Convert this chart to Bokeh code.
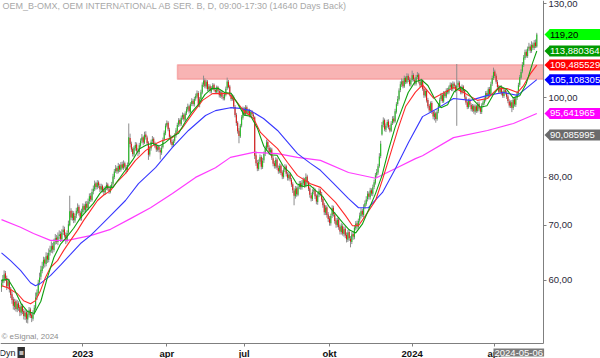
import math
from bokeh.plotting import figure
from bokeh.models import Range1d, FixedTicker, BoxAnnotation, Label, ColumnDataSource
from bokeh.embed import file_html
from bokeh.resources import INLINE

# ---------------- data (daily candles, trading-day index) ----------------
opens = [
    58.8, 59.6, 60.1, 61.2, 60.4, 59.1, 59.9, 58.6, 57.7, 56.9,
    55.7, 56.6, 55.3, 56.3, 55.7, 54.8, 55.9, 55.1, 54.2, 54.9,
    53.8, 54.5, 55.3, 54.5, 53.9, 54.8, 55.5, 57.3, 57.9, 59.7,
    60.6, 61.6, 62.5, 63.6, 62.8, 64.3, 63.5, 64.9, 65.2, 66.1,
    65.3, 66.9, 67.6, 66.8, 67.9, 68.3, 67.3, 68.7, 69.2, 68.1,
    67.1, 68.6, 70.0, 72.9, 71.4, 72.4, 70.9, 71.9, 72.8, 73.7,
    72.5, 71.4, 72.6, 73.9, 73.0, 74.3, 73.4, 74.9, 76.0, 75.1,
    76.9, 77.4, 78.7, 77.8, 78.9, 78.1, 77.3, 78.1, 77.1, 76.7,
    77.7, 78.4, 77.4, 76.8, 77.9, 78.6, 80.1, 81.4, 82.1, 81.3,
    82.7, 81.7, 83.0, 82.1, 83.2, 82.3, 81.7, 83.0, 89.3, 87.9,
    86.6, 85.3, 86.8, 87.7, 86.1, 85.9, 87.4, 88.7, 89.5, 88.1,
    90.2, 89.4, 88.1, 85.3, 86.7, 88.5, 89.1, 87.8, 87.3, 86.4,
    87.1, 86.3, 85.7, 87.0, 88.9, 90.5, 92.5, 93.2, 91.4, 89.7,
    88.3, 87.5, 88.6, 90.0, 91.1, 92.7, 93.9, 92.8, 94.6, 95.3,
    94.0, 95.7, 96.7, 97.6, 96.1, 98.2, 99.1, 98.1, 99.7, 100.3,
    101.3, 97.9, 99.6, 101.4, 103.7, 104.9, 103.1, 104.6, 102.3, 103.2,
    101.7, 102.7, 103.6, 102.1, 101.5, 102.9, 101.8, 100.5, 101.5, 100.1,
    99.7, 100.8, 102.6, 104.5, 103.1, 100.7, 99.5, 100.1, 97.4, 95.3,
    93.2, 91.1, 89.7, 92.5, 94.5, 96.9, 95.4, 97.3, 95.7, 96.5,
    95.0, 96.1, 95.3, 94.6, 85.1, 83.3, 81.9, 83.6, 84.7, 82.3,
    83.9, 85.5, 86.7, 88.3, 86.9, 85.8, 86.5, 84.4, 83.2, 82.5,
    84.1, 82.1, 81.3, 82.7, 81.1, 80.1, 81.7, 82.5, 80.7, 79.8,
    80.7, 79.5, 78.5, 77.1, 75.9, 77.6, 76.2, 77.9, 78.7, 77.8,
    78.7, 79.5, 78.1, 80.2, 78.8, 77.6, 76.1, 75.3, 76.9, 77.3,
    76.0, 74.7, 76.2, 77.1, 76.3, 75.3, 74.1, 72.5, 73.6, 72.1,
    71.3, 70.4, 71.9, 73.5, 72.1, 70.9, 70.0, 71.1, 69.7, 68.7,
    69.8, 68.3, 69.3, 68.1, 67.2, 68.7, 67.4, 66.8, 68.3, 67.7,
    69.4, 70.4, 69.7, 70.9, 71.8, 72.9, 72.0, 73.7, 74.3, 75.3,
    76.5, 75.7, 77.2, 76.4, 77.9, 78.8, 80.5, 81.1, 82.6, 84.9,
    90.2, 92.7, 93.9, 91.4, 92.5, 93.5, 91.9, 91.1, 93.1, 94.3,
    93.6, 96.1, 98.2, 99.5, 102.1, 103.7, 104.7, 103.1, 105.7, 104.3,
    106.3, 105.1, 103.7, 105.0, 106.5, 105.1, 103.9, 105.9, 106.6, 104.5,
    103.4, 104.9, 102.5, 100.5, 101.9, 99.3, 97.7, 96.4, 98.5, 96.1,
    94.7, 95.7, 94.1, 96.2, 97.7, 99.5, 100.7, 98.9, 101.3, 100.3,
    102.1, 101.4, 102.9, 103.7, 102.3, 104.0, 103.1, 101.9, 103.5, 104.3,
    102.7, 101.4, 103.1, 101.9, 100.1, 98.7, 97.3, 99.2, 97.9, 96.7,
    97.7, 96.1, 97.6, 96.3, 98.3, 97.1, 96.0, 97.9, 98.5, 99.4,
    101.3, 100.3, 102.4, 100.9, 103.9, 105.5, 107.5, 106.3, 104.4, 103.1,
    101.5, 102.9, 101.3, 100.4, 102.1, 101.3, 100.3, 98.9, 97.7, 98.7,
    97.1, 99.5, 98.0, 99.9, 101.1, 103.6, 105.7, 107.5, 109.5, 111.7,
    113.6, 112.3, 114.7, 115.3, 113.9, 115.9, 114.8, 116.6, 115.3,
]
highs = [
    60.1, 60.9, 61.7, 61.6, 60.8, 60.3, 60.2, 58.9, 58.2, 57.3,
    57.0, 56.9, 56.8, 56.6, 56.0, 56.3, 56.2, 55.4, 55.3, 55.2,
    55.0, 55.7, 55.6, 54.9, 55.2, 56.0, 58.0, 58.5, 60.1, 61.3,
    62.5, 63.2, 64.1, 64.0, 64.9, 64.8, 65.6, 66.1, 66.9, 66.6,
    67.4, 68.3, 68.1, 68.6, 69.0, 68.8, 69.2, 69.9, 69.7, 68.6,
    69.0, 70.9, 76.0, 73.4, 72.9, 72.8, 72.3, 73.5, 74.4, 74.1,
    72.9, 73.3, 74.4, 74.3, 74.8, 74.9, 75.4, 76.5, 76.6, 77.5,
    78.2, 79.3, 79.0, 79.4, 79.3, 78.6, 78.6, 78.4, 77.8, 78.1,
    78.9, 78.8, 77.9, 78.3, 79.0, 80.8, 81.9, 82.8, 82.5, 83.3,
    83.0, 83.5, 83.6, 83.9, 83.6, 82.8, 83.4, 93.0, 90.4, 88.4,
    87.0, 87.4, 88.3, 88.2, 86.8, 88.1, 89.2, 90.3, 89.9, 90.9,
    91.0, 89.9, 88.5, 87.3, 88.9, 89.8, 89.5, 88.4, 87.9, 87.6,
    87.6, 86.9, 87.5, 89.4, 91.2, 93.0, 93.8, 93.6, 91.9, 90.1,
    88.9, 89.0, 90.5, 91.8, 93.2, 94.4, 94.3, 95.1, 95.9, 95.7,
    96.2, 97.4, 98.3, 98.0, 98.7, 99.8, 99.6, 100.2, 101.1, 102.0,
    101.8, 100.1, 102.2, 104.3, 106.3, 105.5, 105.1, 105.0, 103.8, 103.7,
    103.2, 104.1, 104.0, 102.7, 103.4, 103.3, 102.3, 102.0, 102.0, 100.8,
    101.5, 103.1, 105.7, 105.0, 103.6, 101.3, 100.9, 100.6, 97.9, 95.8,
    93.6, 91.8, 92.9, 95.2, 97.5, 97.4, 97.9, 97.8, 96.9, 96.9,
    96.6, 96.5, 95.9, 94.9, 86.0, 84.0, 84.1, 85.3, 85.1, 84.5,
    86.0, 87.4, 88.9, 88.7, 87.5, 87.0, 86.9, 84.9, 83.8, 84.6,
    84.5, 82.7, 83.2, 83.1, 81.6, 82.1, 83.0, 82.9, 81.2, 81.1,
    81.0, 79.9, 78.9, 77.6, 78.1, 78.0, 78.4, 79.2, 79.2, 79.4,
    80.0, 79.9, 80.9, 80.6, 79.2, 78.0, 76.6, 77.4, 77.9, 77.6,
    76.3, 76.6, 77.6, 77.5, 76.8, 75.7, 74.5, 74.0, 74.0, 72.6,
    71.8, 72.3, 74.0, 73.9, 72.6, 71.4, 71.5, 71.6, 70.1, 70.4,
    70.2, 69.7, 69.8, 68.6, 69.1, 69.2, 67.9, 68.7, 68.8, 70.0,
    70.8, 70.9, 71.3, 72.5, 73.4, 73.3, 74.2, 75.0, 75.9, 77.0,
    76.9, 77.7, 77.6, 78.4, 79.5, 81.0, 81.9, 83.1, 85.6, 88.6,
    93.4, 94.6, 94.3, 93.0, 94.0, 94.1, 92.6, 93.6, 94.9, 95.0,
    96.9, 98.7, 100.4, 102.6, 104.6, 105.5, 105.2, 106.3, 106.1, 107.0,
    106.9, 105.8, 105.5, 107.8, 107.0, 105.7, 106.5, 107.4, 107.1, 105.1,
    105.4, 105.2, 103.0, 102.4, 102.3, 99.9, 98.2, 98.9, 99.0, 96.6,
    96.3, 96.1, 96.7, 98.4, 100.0, 101.3, 101.0, 101.8, 101.8, 102.6,
    102.7, 103.4, 104.3, 104.2, 104.6, 104.5, 103.6, 109.8, 104.9, 104.8,
    103.3, 103.7, 103.5, 102.4, 100.6, 99.2, 99.7, 99.8, 98.4, 98.2,
    98.1, 98.1, 98.0, 98.8, 98.9, 97.6, 98.4, 99.2, 100.1, 101.8,
    101.9, 102.9, 103.0, 104.5, 106.3, 108.7, 108.1, 106.9, 105.0, 103.6,
    103.4, 103.5, 101.9, 102.6, 102.7, 101.9, 100.8, 99.5, 99.2, 99.3,
    100.0, 100.0, 100.4, 101.9, 104.2, 106.5, 108.2, 110.4, 112.6, 114.3,
    114.4, 115.3, 116.5, 116.0, 117.0, 116.6, 117.4, 117.6, 119.8,
]
lows = [
    58.1, 59.0, 59.6, 59.9, 58.4, 58.7, 58.0, 57.1, 56.2, 55.3,
    55.2, 55.0, 54.9, 55.1, 54.3, 54.4, 54.6, 53.8, 53.7, 53.3,
    53.2, 54.1, 54.0, 53.4, 53.6, 54.5, 55.2, 56.8, 57.5, 59.2,
    60.1, 61.2, 62.0, 62.2, 62.4, 63.0, 63.1, 64.3, 64.8, 64.7,
    65.0, 66.3, 66.4, 66.2, 67.3, 66.8, 66.9, 68.1, 67.6, 66.4,
    66.7, 68.2, 69.8, 71.0, 70.9, 70.4, 70.5, 71.4, 72.3, 71.9,
    70.9, 70.9, 72.1, 72.6, 72.5, 73.0, 73.0, 74.3, 74.7, 74.8,
    76.3, 77.0, 77.3, 77.4, 77.7, 76.8, 76.9, 76.7, 76.1, 76.2,
    77.2, 77.1, 76.4, 76.5, 77.5, 78.2, 79.6, 81.0, 80.8, 80.9,
    81.2, 81.3, 81.8, 81.7, 82.0, 80.9, 81.2, 82.7, 87.0, 85.9,
    84.8, 84.7, 86.2, 85.7, 84.9, 85.3, 86.9, 88.0, 87.5, 87.8,
    88.9, 87.5, 84.0, 84.8, 86.2, 88.0, 87.4, 86.8, 85.9, 86.0,
    85.8, 84.1, 85.2, 86.7, 88.5, 90.0, 92.0, 91.0, 89.1, 87.7,
    87.0, 87.1, 88.1, 89.4, 90.6, 92.1, 92.3, 92.4, 94.0, 93.5,
    93.5, 95.2, 96.1, 95.6, 95.8, 97.6, 97.6, 97.5, 99.1, 99.8,
    97.4, 97.3, 99.0, 100.9, 103.0, 102.6, 102.5, 101.8, 101.9, 101.2,
    101.1, 102.1, 101.7, 101.0, 101.0, 101.3, 100.0, 99.9, 99.6, 99.2,
    99.2, 100.3, 102.1, 102.6, 100.3, 99.0, 99.1, 96.9, 94.6, 92.4,
    90.4, 88.0, 89.3, 92.0, 94.0, 95.0, 95.0, 95.3, 95.2, 94.6,
    94.5, 94.9, 94.2, 84.2, 82.6, 81.4, 81.5, 83.0, 81.8, 81.9,
    83.3, 84.9, 86.1, 86.5, 85.2, 85.2, 84.0, 82.5, 82.0, 82.0,
    81.7, 80.8, 80.9, 80.5, 79.6, 79.7, 81.2, 80.2, 79.3, 79.3,
    79.1, 77.9, 76.6, 74.0, 75.4, 75.8, 75.9, 77.4, 77.3, 77.3,
    78.2, 77.7, 77.8, 78.4, 77.0, 75.6, 74.8, 74.9, 76.3, 75.3,
    74.2, 74.1, 75.7, 75.9, 74.7, 73.5, 72.0, 72.0, 71.5, 70.6,
    69.9, 69.9, 71.4, 71.7, 70.3, 69.5, 69.6, 69.1, 68.2, 68.2,
    68.0, 67.8, 67.5, 66.7, 66.8, 67.0, 65.8, 66.4, 67.2, 67.3,
    69.0, 69.2, 69.3, 70.5, 71.3, 71.6, 71.5, 73.2, 73.9, 74.8,
    75.2, 75.2, 76.0, 75.9, 77.4, 78.4, 79.9, 80.6, 82.2, 84.4,
    89.9, 92.0, 91.0, 90.8, 91.9, 91.5, 90.7, 90.8, 92.6, 93.0,
    93.2, 95.6, 97.7, 99.1, 101.5, 103.0, 102.6, 102.7, 103.8, 103.9,
    104.4, 103.2, 103.1, 104.5, 104.6, 103.4, 103.4, 105.3, 104.0, 102.9,
    102.9, 101.9, 99.9, 100.0, 98.6, 97.0, 95.9, 95.9, 95.5, 94.1,
    93.8, 93.2, 93.7, 95.7, 97.2, 99.0, 98.5, 98.5, 99.9, 99.8,
    100.9, 100.9, 102.3, 101.8, 101.8, 102.6, 101.4, 92.4, 102.9, 102.0,
    100.9, 100.9, 101.2, 99.6, 98.0, 96.8, 96.9, 97.4, 96.2, 96.1,
    95.6, 95.3, 95.8, 95.9, 96.4, 95.5, 95.5, 97.3, 98.0, 98.9,
    99.8, 99.8, 100.4, 100.4, 103.3, 105.0, 105.6, 103.9, 102.4, 101.0,
    101.0, 100.6, 99.9, 99.9, 100.8, 99.6, 98.4, 97.2, 97.1, 96.0,
    96.6, 97.5, 97.4, 99.3, 100.6, 103.0, 105.2, 107.0, 108.9, 111.1,
    111.8, 111.7, 113.9, 113.2, 113.3, 114.2, 114.2, 114.8, 114.9,
]
closes = [
    59.5, 60.2, 61.0, 60.3, 59.0, 59.8, 58.5, 57.6, 56.8, 55.9,
    56.5, 55.4, 56.2, 55.6, 54.9, 55.8, 55.0, 54.3, 54.8, 53.9,
    54.6, 55.2, 54.4, 54.0, 54.7, 55.6, 57.2, 58.0, 59.6, 60.5,
    61.8, 62.4, 63.5, 62.9, 64.2, 63.6, 64.8, 65.3, 66.0, 65.4,
    66.8, 67.5, 66.9, 67.8, 68.2, 67.4, 68.6, 69.1, 68.0, 67.2,
    68.5, 70.2, 72.8, 71.5, 72.3, 71.0, 71.8, 72.9, 73.6, 72.4,
    71.5, 72.7, 73.8, 73.1, 74.2, 73.5, 74.8, 75.9, 75.2, 76.8,
    77.5, 78.6, 77.9, 78.8, 78.2, 77.4, 78.0, 77.2, 76.8, 77.6,
    78.3, 77.5, 76.9, 77.8, 78.5, 80.2, 81.3, 82.0, 81.4, 82.6,
    81.8, 82.9, 82.2, 83.1, 82.4, 81.6, 82.8, 89.5, 87.8, 86.5,
    85.4, 86.9, 87.6, 86.2, 85.8, 87.5, 88.6, 89.4, 88.2, 90.1,
    89.5, 88.0, 85.2, 86.8, 88.4, 89.0, 87.9, 87.2, 86.5, 87.0,
    86.4, 85.8, 86.9, 88.8, 90.6, 92.4, 93.1, 91.5, 89.6, 88.2,
    87.6, 88.5, 89.9, 91.2, 92.6, 93.8, 92.9, 94.5, 95.2, 94.1,
    95.6, 96.8, 97.5, 96.2, 98.1, 99.0, 98.2, 99.6, 100.4, 101.2,
    98.0, 99.5, 101.5, 103.6, 104.8, 103.2, 104.5, 102.4, 103.1, 101.8,
    102.6, 103.5, 102.2, 101.6, 102.8, 101.9, 100.6, 101.4, 100.2, 99.8,
    100.9, 102.5, 104.6, 103.0, 100.8, 99.6, 100.2, 97.5, 95.2, 93.1,
    91.0, 89.8, 92.4, 94.6, 96.8, 95.5, 97.2, 95.8, 96.4, 95.1,
    96.0, 95.4, 94.8, 85.0, 83.2, 82.0, 83.5, 84.6, 82.4, 83.8,
    85.4, 86.8, 88.2, 87.0, 85.9, 86.4, 84.5, 83.1, 82.6, 84.0,
    82.2, 81.4, 82.6, 81.0, 80.2, 81.6, 82.4, 80.8, 79.9, 80.6,
    79.6, 78.4, 77.2, 76.0, 77.5, 76.3, 77.8, 78.6, 77.9, 78.8,
    79.4, 78.2, 80.1, 78.9, 77.5, 76.2, 75.4, 76.8, 77.2, 75.9,
    74.8, 76.1, 77.0, 76.4, 75.2, 74.0, 72.6, 73.5, 72.0, 71.2,
    70.5, 71.8, 73.4, 72.2, 70.8, 70.1, 71.0, 69.6, 68.8, 69.9,
    68.4, 69.2, 68.0, 67.3, 68.6, 67.5, 66.9, 68.2, 67.8, 69.5,
    70.3, 69.8, 70.8, 71.9, 72.8, 72.1, 73.6, 74.4, 75.2, 76.4,
    75.8, 77.1, 76.5, 77.8, 78.9, 80.4, 81.2, 82.5, 84.8, 87.9,
    92.6, 93.8, 91.5, 92.4, 93.4, 92.0, 91.2, 93.0, 94.2, 93.5,
    96.2, 98.1, 99.6, 102.0, 103.8, 104.6, 103.2, 105.6, 104.4, 106.2,
    105.0, 103.8, 104.9, 106.4, 105.2, 104.0, 105.8, 106.5, 104.6, 103.5,
    104.8, 102.4, 100.6, 101.8, 99.2, 97.6, 96.5, 98.4, 96.0, 94.8,
    95.6, 94.2, 96.1, 97.8, 99.4, 100.6, 99.0, 101.2, 100.4, 102.0,
    101.5, 102.8, 103.6, 102.4, 103.9, 103.2, 102.0, 103.4, 104.2, 102.6,
    101.5, 103.0, 101.8, 100.2, 98.6, 97.4, 99.1, 98.0, 96.8, 97.6,
    96.2, 97.5, 96.4, 98.2, 97.0, 96.1, 97.8, 98.6, 99.5, 101.2,
    100.4, 102.3, 101.0, 103.8, 105.6, 107.4, 106.2, 104.5, 103.0, 101.6,
    102.8, 101.2, 100.5, 102.0, 101.4, 100.2, 99.0, 97.8, 98.6, 97.2,
    99.4, 98.1, 99.8, 101.2, 103.5, 105.8, 107.4, 109.6, 111.8, 113.5,
    112.4, 114.6, 115.2, 114.0, 115.8, 114.9, 116.5, 115.4, 119.2,
]

# moving averages (trading-day index, price)
ma_green_x = [0, 5, 10, 15, 20, 25, 30, 35, 40, 45, 50, 55, 60, 65, 70, 75, 80, 85, 90, 95,
              100, 105, 110, 115, 120, 125, 130, 135, 140, 145, 150, 155, 160, 165, 170, 175,
              180, 185, 190, 195, 200, 205, 210, 215, 220, 225, 230, 235, 240, 245, 250, 255,
              260, 265, 270, 275, 280, 285, 290, 295, 300, 305, 310, 315, 320, 325, 330, 335,
              340, 345, 350, 355, 360, 365, 370, 375, 380, 385, 390, 395, 400, 405, 408]
ma_green_y = [60.0, 60.2, 58.4, 56.2, 55.0, 54.7, 56.6, 60.5, 64.0, 66.4, 67.8, 69.4, 71.4, 72.9,
              74.4, 76.5, 77.9, 77.8, 79.8, 81.9, 84.0, 86.6, 87.5, 88.0, 87.3, 88.2, 89.6, 90.5,
              93.4, 96.0, 98.0, 100.8, 102.5, 102.6, 101.4, 101.2, 98.3, 95.2, 94.9, 91.8, 87.2,
              85.2, 85.1, 82.4, 81.0, 78.6, 78.0, 78.3, 77.0, 75.8, 73.6, 72.1, 70.5, 69.1, 68.5,
              70.2, 73.2, 76.4, 80.4, 86.4, 92.0, 96.6, 101.4, 104.4, 105.1, 103.4, 99.8, 97.2,
              98.0, 101.6, 102.9, 101.6, 99.2, 97.3, 97.7, 100.9, 103.2, 102.3, 99.9, 100.5,
              104.0, 110.4, 113.88]
ma_red_x = [0, 4.6, 12.2, 16.8, 22.1, 25.9, 29.7, 33.5, 37.3, 42.7, 47.3, 52.6, 57.9, 62.5, 67.8,
            73.2, 77.7, 83.1, 86.9, 94.5, 102.1, 109.8, 117.4, 122.7, 130.3, 138.0, 145.6, 153.2,
            160.8, 173.0, 178.4, 184.5, 192.1, 197.4, 203.5, 210.4, 218.0, 225.6, 235.5, 243.1,
            254.6, 262.2, 267.5, 272.1, 277.4, 285.1, 290.4, 296.5, 302.6, 308.0, 315.5, 320.9,
            329.3, 344.5, 352.1, 362.8, 370.4, 378.0, 385.7, 393.3, 397.9, 403.2, 408]
ma_red_y = [59.1, 58.8, 57.8, 56.7, 56.2, 56.7, 58.3, 60.5, 62.2, 63.4, 65.2, 67.1, 69.0, 70.9,
            72.9, 75.0, 76.1, 77.1, 78.6, 80.9, 83.9, 86.2, 87.9, 88.7, 89.4, 91.9, 95.6, 99.2,
            101.1, 101.1, 99.2, 96.4, 94.3, 90.7, 88.7, 86.7, 83.4, 80.4, 78.6, 77.8, 74.6, 71.9,
            69.9, 69.9, 71.9, 75.0, 79.5, 85.5, 92.0, 97.5, 101.5, 103.6, 99.8, 102.8, 101.4,
            99.2, 99.7, 102.5, 102.5, 101.4, 103.4, 106.9, 109.485529]
ma_blue_x = [0, 6.9, 14.5, 22.1, 25.9, 29.7, 37.3, 45.0, 52.6, 60.2, 67.8, 75.5, 83.1, 94.5,
             104.4, 117.4, 130.3, 142.5, 155.5, 163.1, 174.5, 182.2, 189.8, 199.7, 210.4, 225.6,
             235.5, 243.1, 252.3, 264.5, 272.1, 279.7, 290.4, 300.3, 310.2, 320.9, 332.3, 344.5,
             357.5, 370.4, 382.6, 393.3, 408]
ma_blue_y = [64.8, 63.4, 61.7, 59.6, 59.1, 59.5, 60.8, 62.6, 64.5, 66.5, 68.0, 69.9, 71.9, 75.0,
             78.6, 82.2, 87.0, 91.2, 95.1, 96.4, 97.2, 97.0, 96.4, 94.3, 91.2, 85.5, 83.2, 81.6,
             78.9, 75.4, 73.5, 73.5, 76.7, 82.0, 88.2, 94.8, 97.0, 99.7, 99.2, 100.6, 101.4,
             100.6, 105.108305]
ma_mag_x = [0, 14.5, 24.4, 37.3, 50.3, 67.8, 83.1, 98.3, 113.6, 130.3, 147.9, 163.1, 174.5,
            192.1, 210.4, 225.6, 243.1, 264.5, 285.1, 300.3, 315.5, 320.9, 344.5, 370.4, 390.2, 408]
ma_mag_y = [71.1, 69.6, 68.4, 67.1, 67.1, 68.0, 69.2, 71.3, 73.5, 76.5, 80.0, 82.2, 84.6, 85.8,
            85.5, 84.6, 83.9, 81.1, 79.8, 82.0, 84.3, 85.0, 89.4, 91.2, 93.0, 95.641965]

# resistance zone
zone_start = 134.1
zone_top = 109.6
zone_bottom = 105.2

# axis ticks
x_tick_pos = [62, 126, 185, 250, 313, 376]
x_tick_lab = ["2023", "apr", "jul", "okt", "2024", "apr"]
y_tick_pos = [60, 70, 80, 100, 130]
y_tick_lab = ["60,00", "70,00", "80,00", "100,00", "130,00"]

# price tags on the right
tag_vals = [119.20, 113.880364, 109.485529, 105.108305, 95.641965, 90.085995]
tag_text = ["119,20", "113,880364", "109,485529", "105,108305", "95,641965", "90,085995"]
tag_bg = ["#00ff00", "#009a00", "#ff0000", "#0000ff", "#ff00ff", "#6b6b6b"]
tag_fg = ["#000000", "#ffffff", "#ffffff", "#ffffff", "#ffffff", "#ffffff"]

# ---------------- geometry helpers (pixel <-> data) ----------------
PX0, DX = 1.0, 1.312      # pixel x of index 0, pixels per trading day
PY100, PPL = 97.0, 358.0  # pixel y of price 100, pixels per ln unit


def ix(px):
    return (px - PX0) / DX


def py(y):
    return 100.0 * math.exp((PY100 - y) / PPL)


def dy(v, pixels):
    return v * math.exp(pixels / PPL)


FONT = "Liberation Sans"
W, H = 600, 358

p = figure(width=W, height=H, output_backend="svg", toolbar_location=None,
           y_axis_type="log", y_axis_location="right",
           x_range=Range1d(ix(0), ix(W)), y_range=Range1d(py(H), py(0)),
           min_border=0, min_border_left=0, min_border_top=0,
           min_border_right=0, min_border_bottom=0)
p.outline_line_color = None
p.background_fill_color = "white"
p.border_fill_color = "white"
p.xgrid.visible = False
p.ygrid.visible = False

# resistance zone
p.add_layout(BoxAnnotation(left=zone_start, right=ix(543), top=zone_top, bottom=zone_bottom,
                           fill_color="#f8b4b4", fill_alpha=1.0,
                           line_color="#ee4a4a", line_width=1.5, level="underlay"))

n = len(closes)
xs = list(range(n))
src = ColumnDataSource(dict(
    x=xs, h=highs, l=lows,
    top=[max(o, c) for o, c in zip(opens, closes)],
    bot=[min(o, c) for o, c in zip(opens, closes)],
    col=["#1fbf1f" if c >= o else "#e01414" for o, c in zip(opens, closes)],
))
p.segment(x0="x", y0="h", x1="x", y1="l", source=src, line_color="#8c8c8c", line_width=1)
p.vbar(x="x", width=0.8, top="top", bottom="bot", source=src,
       fill_color="col", line_color=None)

p.line(ma_mag_x, ma_mag_y, line_color="#ff3cff", line_width=1.2)
p.line(ma_blue_x, ma_blue_y, line_color="#3838ff", line_width=1.1)
p.line(ma_red_x, ma_red_y, line_color="#ff2a2a", line_width=1.1)
p.line(ma_green_x, ma_green_y, line_color="#10a010", line_width=1.1)

# axes (drawn inside the canvas at fixed positions)
ya = p.yaxis[0]
ya.fixed_location = ix(543)
ya.bounds = (py(343), py(0))
ya.ticker = FixedTicker(ticks=y_tick_pos)
ya.major_label_overrides = dict(zip(y_tick_pos, y_tick_lab))
ya.minor_tick_line_color = None
ya.axis_line_color = "#7f7f7f"
ya.major_tick_line_color = "#7f7f7f"
ya.major_tick_out = 3
ya.major_tick_in = 0
ya.major_label_standoff = 2
ya.major_label_text_font = FONT
ya.major_label_text_font_size = "9.5px"
ya.major_label_text_color = "#2a2a3a"

xa = p.xaxis[0]
xa.fixed_location = py(343)
xa.bounds = (ix(0), ix(543))
xa.ticker = FixedTicker(ticks=x_tick_pos)
xa.major_label_overrides = dict(zip(x_tick_pos, x_tick_lab))
xa.minor_tick_line_color = None
xa.axis_line_color = "#7f7f7f"
xa.major_tick_line_color = "#7f7f7f"
xa.major_tick_out = 3
xa.major_tick_in = 0
xa.major_label_standoff = 1
xa.major_label_text_font = FONT
xa.major_label_text_font_size = "9.5px"
xa.major_label_text_font_style = "bold"
xa.major_label_text_color = "#111111"

# right-hand price tags: pointed boxes reaching the right edge
tag_src = ColumnDataSource(dict(
    left=[ix(549)] * len(tag_vals), right=[ix(601)] * len(tag_vals),
    top=[dy(v, 5.5) for v in tag_vals], bottom=[dy(v, -5.5) for v in tag_vals],
    color=tag_bg,
))
p.quad(left="left", right="right", top="top", bottom="bottom", fill_color="color",
       line_color=None, source=tag_src)
p.patches(xs=[[ix(544), ix(549.5), ix(549.5)] for v in tag_vals],
          ys=[[v, dy(v, 5.5), dy(v, -5.5)] for v in tag_vals],
          fill_color=tag_bg, line_color=None)
for v, t, fg in zip(tag_vals, tag_text, tag_fg):
    p.add_layout(Label(x=ix(549.5), y=v, text=t, text_align="left", text_baseline="middle",
                       text_color=fg, text_font=FONT, text_font_size="9.5px"))

# texts
p.add_layout(Label(x=ix(2), y=py(5), text="OEM_B-OMX, OEM INTERNATIONAL AB SER. B, D, 09:00-17:30 (14640 Days Back)",
                   text_baseline="middle", text_color="#a8a8a8", text_font=FONT, text_font_size="9px"))
p.add_layout(Label(x=ix(1), y=py(336), text="\u00a9 eSignal, 2024", text_baseline="middle",
                   text_color="#8c8c8c", text_font=FONT, text_font_size="8px"))
p.add_layout(Label(x=ix(-1), y=py(352), text="Dyn", text_baseline="middle",
                   text_color="#222222", text_font=FONT, text_font_size="9px"))
p.add_layout(Label(x=ix(17), y=py(352), text="\u25aa", text_baseline="middle",
                   text_color="#bbbbbb", text_font="DejaVu Sans", text_font_size="8px",
                   background_fill_color="#303030", padding=1))
p.add_layout(Label(x=ix(493), y=py(352), text="2024-05-06", text_baseline="middle",
                   text_color="#ffffff", text_font=FONT, text_font_size="9.5px",
                   background_fill_color="#7a7a7a", padding=1))

open("out.html", "w").write(file_html(p, INLINE))
